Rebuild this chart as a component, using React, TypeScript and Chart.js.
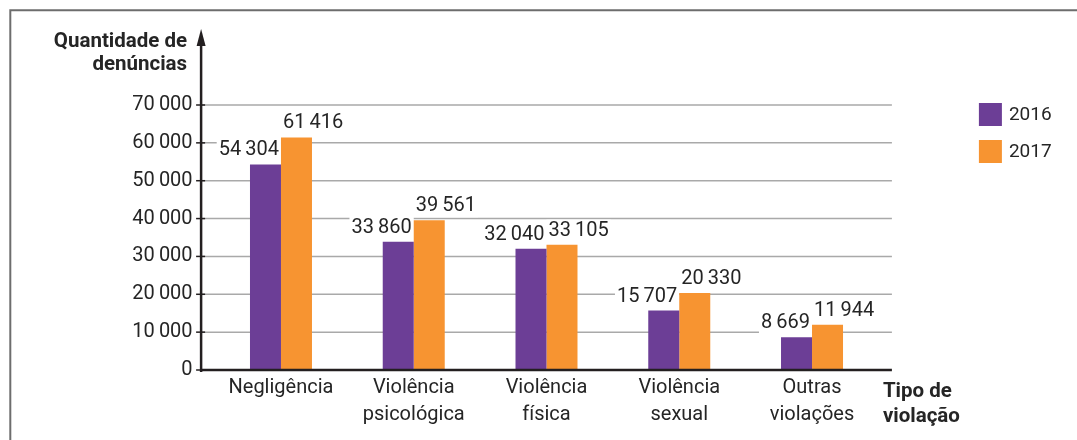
import React, { useEffect, useRef } from "react";
import { Chart, registerables } from "chart.js";

Chart.register(...registerables);

const categories: string[][] = [
  ["Negligência"],
  ["Violência", "psicológica"],
  ["Violência", "física"],
  ["Violência", "sexual"],
  ["Outras", "violações"],
];
const seriesNames = ["2016", "2017"];
const values2016 = [54304, 33860, 32040, 15707, 8669];
const values2017 = [61416, 39561, 33105, 20330, 11944];
const yMax = 70000;
const yStep = 10000;
const yTitle = ["Quantidade de", "denúncias"];
const xTitle = ["Tipo de", "violação"];

const PURPLE = "#6C3E96";
const ORANGE = "#F79431";
const TEXT = "#252525";
const GRID = "#a9a9a9";
const AXIS = "#231f20";
const FONT = "Roboto";

const fmt = (v: number) =>
  String(v).replace(/\B(?=(\d{3})+(?!\d))/g, "\u2009");

const W = 1077;
const H = 440;

function labelPos(chart: any, di: number, bar: any) {
  const { x, y, width } = bar.getProps(["x", "y", "width"], true);
  if (di === 0) return { x: x + width / 2 - 2, y: y - 14, align: "right" as CanvasTextAlign };
  return { x: x - width / 2 + 2, y: y - 14, align: "left" as CanvasTextAlign };
}

const decor = {
  id: "decor",
  beforeDatasetsDraw(chart: any) {
    const { ctx, chartArea, scales } = chart;
    const y = scales.y;
    const axisX = chartArea.left - 13.5;
    const right = chartArea.right + 13.5;
    ctx.save();
    ctx.strokeStyle = GRID;
    ctx.lineWidth = 1.5;
    y.ticks.forEach((t: any) => {
      if (t.value === 0) return;
      const py = y.getPixelForValue(t.value);
      ctx.beginPath();
      ctx.moveTo(axisX, py);
      ctx.lineTo(right, py);
      ctx.stroke();
    });
    // white backgrounds behind value labels
    ctx.font = `20px ${FONT}`;
    ctx.fillStyle = "#ffffff";
    chart.data.datasets.forEach((ds: any, di: number) => {
      const meta = chart.getDatasetMeta(di);
      meta.data.forEach((bar: any, j: number) => {
        const p = labelPos(chart, di, bar);
        const txt = fmt(ds.data[j]);
        const w = ctx.measureText(txt).width;
        const x0 = p.align === "right" ? p.x - w - 2 : p.x - 2;
        ctx.fillRect(x0, p.y - 11, w + 4, 22);
      });
    });
    ctx.restore();
  },
  afterDatasetsDraw(chart: any) {
    const { ctx, chartArea, scales } = chart;
    const y = scales.y;
    const axisX = chartArea.left - 13.5;
    const right = chartArea.right + 13.5;
    ctx.save();
    // value labels
    ctx.font = `20px ${FONT}`;
    ctx.fillStyle = TEXT;
    ctx.textBaseline = "middle";
    chart.data.datasets.forEach((ds: any, di: number) => {
      const meta = chart.getDatasetMeta(di);
      meta.data.forEach((bar: any, j: number) => {
        const p = labelPos(chart, di, bar);
        ctx.textAlign = p.align;
        ctx.fillText(fmt(ds.data[j]), p.x, p.y);
      });
    });
    // axes
    ctx.strokeStyle = AXIS;
    ctx.lineWidth = 2.5;
    const by = y.getPixelForValue(0);
    ctx.beginPath();
    ctx.moveTo(axisX, by);
    ctx.lineTo(right, by);
    ctx.stroke();
    const tipY = chartArea.top - 76;
    ctx.beginPath();
    ctx.moveTo(axisX, by + 2);
    ctx.lineTo(axisX, tipY + 12);
    ctx.stroke();
    ctx.fillStyle = AXIS;
    ctx.beginPath();
    ctx.moveTo(axisX, tipY);
    ctx.lineTo(axisX - 4.5, tipY + 17);
    ctx.lineTo(axisX + 4.5, tipY + 17);
    ctx.closePath();
    ctx.fill();
    // tick marks
    ctx.lineWidth = 1.5;
    y.ticks.forEach((t: any) => {
      const py = y.getPixelForValue(t.value);
      ctx.beginPath();
      ctx.moveTo(axisX - 5, py);
      ctx.lineTo(axisX + 4, py);
      ctx.stroke();
    });
    // frame
    ctx.strokeStyle = "#6d6d6d";
    ctx.lineWidth = 2;
    ctx.beginPath();
    ctx.moveTo(W, 10.3);
    ctx.lineTo(10.3, 10.3);
    ctx.lineTo(10.3, H);
    ctx.stroke();
    // titles
    ctx.fillStyle = TEXT;
    ctx.font = `bold 20.5px ${FONT}`;
    ctx.textBaseline = "alphabetic";
    ctx.textAlign = "right";
    ctx.fillText(yTitle[0], axisX - 14, chartArea.top - 58);
    ctx.fillText(yTitle[1], axisX - 14, chartArea.top - 35);
    ctx.textAlign = "left";
    ctx.fillText(xTitle[0], right - 9, by + 27);
    ctx.fillText(xTitle[1], right - 9, by + 52);
    // legend
    const lx = right + 87;
    ctx.font = `19px ${FONT}`;
    ctx.textBaseline = "middle";
    chart.data.datasets.forEach((ds: any, i: number) => {
      const ly = chartArea.top - 2 + i * 37;
      ctx.fillStyle = ds.backgroundColor;
      ctx.fillRect(lx, ly, 23, 23);
      ctx.fillStyle = TEXT;
      ctx.fillText(ds.label, lx + 30, ly + 12);
    });
    ctx.restore();
  },
};

export default function App() {
  const ref = useRef<HTMLCanvasElement>(null);
  useEffect(() => {
    if (!ref.current) return;
    const chart = new Chart(ref.current, {
      type: "bar",
      data: {
        labels: categories,
        datasets: [
          { label: seriesNames[0], data: values2016, backgroundColor: PURPLE },
          { label: seriesNames[1], data: values2017, backgroundColor: ORANGE },
        ],
      },
      options: {
        responsive: false,
        animation: false,
        devicePixelRatio: 1,
        layout: { padding: { left: 0, right: 198.6, top: 105, bottom: 0 } },
        datasets: { bar: { categoryPercentage: 0.467, barPercentage: 1 } } as any,
        plugins: { legend: { display: false }, tooltip: { enabled: false } },
        scales: {
          x: {
            grid: { display: false, drawTicks: false },
            border: { display: false },
            ticks: {
              autoSkip: false,
              maxRotation: 0,
              padding: 4.5,
              color: TEXT,
              font: { family: FONT, size: 20, lineHeight: 1.35 },
            },
            afterFit: (s: any) => {
              s.height = 70;
            },
          },
          y: {
            min: 0,
            max: yMax,
            grid: { display: false, drawTicks: false },
            border: { display: false },
            ticks: {
              stepSize: yStep,
              padding: 22,
              color: TEXT,
              font: { family: FONT, size: 20 },
              callback: (v: any) => fmt(Number(v)),
            },
            afterFit: (s: any) => {
              s.width = 214.6;
            },
          },
        },
      },
      plugins: [decor],
    });
    return () => chart.destroy();
  }, []);
  return (
    <div style={{ position: "absolute", left: 0, top: 0, width: W, height: H, background: "#fff" }}>
      <canvas ref={ref} width={W} height={H} style={{ display: "block" }} />
    </div>
  );
}
